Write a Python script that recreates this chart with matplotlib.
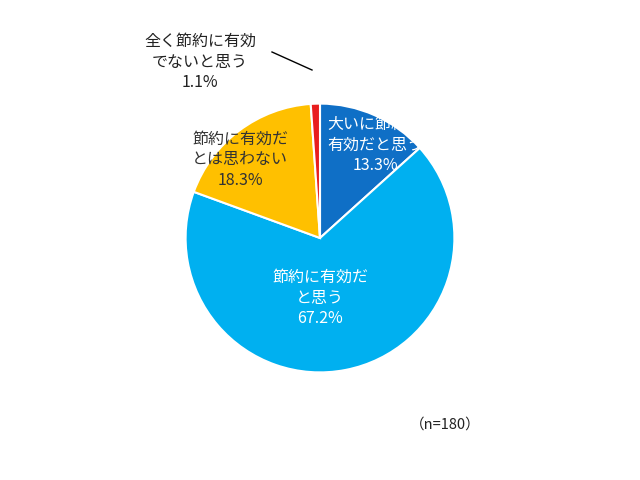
import matplotlib
matplotlib.use('Agg')
import matplotlib.pyplot as plt

plt.rcParams['font.family'] = ['Noto Sans CJK JP', 'DejaVu Sans']

labels = ['大いに節約に\n有効だと思う', '節約に有効だ\nと思う', '節約に有効だ\nとは思わない', '全く節約に有効\nでないと思う']
values = [13.3, 67.2, 18.3, 1.1]
colors = ['#0f6fc6', '#00b0f0', '#ffc000', '#e81e1e']
text_colors = ['white', 'white', '#333333', '#222222']
# label positions in figure pixels (x, y from top)
label_pos = [(375, 145), (320, 298), (240, 160), (200, 62)]

fig = plt.figure(figsize=(6.4, 4.8), dpi=100)
ax = fig.add_axes([152/640, 74/480, 336/640, 336/480])
ax.pie(values, colors=colors, startangle=90, counterclock=False,
       wedgeprops=dict(edgecolor='white', linewidth=1.5))
ax.set_aspect('equal')

for lab, v, tc, (x, y) in zip(labels, values, text_colors, label_pos):
    fig.text(x/640, 1 - y/480, f'{lab}\n{v}%', color=tc, ha='center', va='center',
             fontsize=11.5, linespacing=1.25)

# leader line for small slice
fig.add_artist(plt.Line2D([272/640, 312/640], [1 - 52/480, 1 - 70/480], color='black', lw=1))

fig.text(445/640, 1 - 425/480, '（n=180）', ha='center', va='center', fontsize=10.5, color='#222222')

fig.savefig('out.png', dpi=100)
